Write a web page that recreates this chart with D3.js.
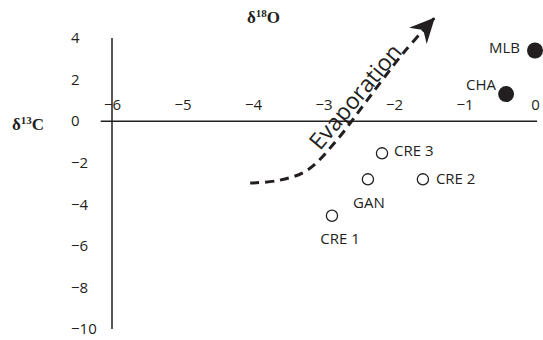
<!DOCTYPE html>
<html>
<head>
<meta charset="utf-8">
<script src="https://cdn.jsdelivr.net/npm/d3@7"></script>
<style>
  body { margin: 0; background: #fff; }
  text { font-family: "Open Sans", sans-serif; fill: #231f20; }
  .title { font-family: "Liberation Serif", "Times New Roman", serif; font-weight: bold; }
</style>
</head>
<body>
<svg id="chart" width="543" height="340"></svg>
<script>
// data
const xTicks = [-6, -5, -4, -3, -2, -1, 0];
const yTicks = [4, 2, 0, -2, -4, -6, -8, -10];
const sites = ['MLB', 'CHA', 'CRE 3', 'GAN', 'CRE 2', 'CRE 1'];
const d18O = [0, -0.41, -2.17, -2.37, -1.59, -2.88];
const d13C = [3.4, 1.3, -1.55, -2.8, -2.8, -4.55];
const filled = [true, true, false, false, false, false];
// evaporation trend (drawn in data units)
const evapX = [-4.04, -3.62, -3.23, -2.81, -2.38, -1.87, -1.43];
const evapY = [-2.98, -2.84, -2.36, -0.91, 1.01, 3.27, 4.95];

const svg = d3.select('#chart');
const x = d3.scaleLinear().domain([-6, 0]).range([112, 535]);
const y = d3.scaleLinear().domain([-10, 4]).range([329, 38]);

// label placement per site
const place = {
  'MLB': { dx: -15, dy: 3, anchor: 'end' },
  'CHA': { dx: -10, dy: -4, anchor: 'end' },
  'CRE 3': { dx: 12, dy: 3, anchor: 'start' },
  'GAN': { dx: 1, dy: 29, anchor: 'middle' },
  'CRE 2': { dx: 13, dy: 5, anchor: 'start' },
  'CRE 1': { dx: 8, dy: 28, anchor: 'middle' },
};

// axis lines
svg.append('line')
  .attr('x1', x(-6.16)).attr('x2', x(0.03))
  .attr('y1', y(0)).attr('y2', y(0))
  .attr('stroke', '#231f20').attr('stroke-width', 1.5);
svg.append('line')
  .attr('x1', x(-6)).attr('x2', x(-6))
  .attr('y1', y(4)).attr('y2', y(-10))
  .attr('stroke', '#231f20').attr('stroke-width', 1.5);

const xAxis = svg.append('g')
  .attr('transform', `translate(0, ${y(0)})`)
  .call(d3.axisTop(x).tickValues(xTicks).tickSize(0).tickPadding(11).tickFormat(d3.format('d')));
xAxis.select('.domain').remove();
xAxis.selectAll('text').style('font-size', '15px').attr('fill', '#231f20');

const yAxis = svg.append('g')
  .attr('transform', `translate(${x(-6)}, 0)`)
  .call(d3.axisLeft(y).tickValues(yTicks).tickSize(0).tickFormat(d3.format('d')));
yAxis.select('.domain').remove();
yAxis.selectAll('text')
  .attr('x', -41)
  .attr('text-anchor', 'start')
  .style('font-size', '15px')
  .attr('fill', '#231f20');

// titles
const tx = svg.append('text').attr('class', 'title').attr('x', 247).attr('y', 23).style('font-size', '17px');
tx.append('tspan').text('δ');
tx.append('tspan').attr('dy', -6).style('font-size', '11px').text('18');
tx.append('tspan').attr('dy', 6).text('O');

const ty = svg.append('text').attr('class', 'title').attr('x', 12).attr('y', 130).style('font-size', '17px');
ty.append('tspan').text('δ');
ty.append('tspan').attr('dy', -6).style('font-size', '11px').text('13');
ty.append('tspan').attr('dy', 6).text('C');

// evaporation arrow
svg.append('defs').append('marker')
  .attr('id', 'head')
  .attr('markerUnits', 'userSpaceOnUse')
  .attr('viewBox', '-26 -13 28 26')
  .attr('markerWidth', 28).attr('markerHeight', 26)
  .attr('refX', 0).attr('refY', 0)
  .attr('orient', 'auto')
  .append('path')
  .attr('d', 'M1,0 L-24,-12 L-16,0 L-24,12 Z')
  .attr('fill', '#231f20');

const evap = evapX.map((v, i) => [x(v), y(evapY[i])]);
svg.append('path')
  .attr('d', d3.line().curve(d3.curveCatmullRom)(evap))
  .attr('fill', 'none')
  .attr('stroke', '#231f20')
  .attr('stroke-width', 3)
  .attr('stroke-dasharray', '9,6')
  .attr('marker-end', 'url(#head)');

svg.append('text')
  .attr('transform', `translate(${x(-2.46)}, ${y(0.93)}) rotate(-50)`)
  .attr('text-anchor', 'middle')
  .style('font-size', '23px')
  .text('Evaporation');

// points
const pts = sites.map((s, i) => ({ name: s, ox: d18O[i], cx: d13C[i], solid: filled[i] }));
svg.append('g').selectAll('circle')
  .data(pts)
  .enter()
  .append('circle')
  .attr('cx', d => x(d.ox))
  .attr('cy', d => y(d.cx))
  .attr('r', d => (d.solid ? 8 : 5.6))
  .attr('fill', d => (d.solid ? '#231f20' : '#fff'))
  .attr('stroke', '#231f20')
  .attr('stroke-width', d => (d.solid ? 0 : 1.3));

svg.append('g').selectAll('text')
  .data(pts)
  .enter()
  .append('text')
  .attr('x', d => x(d.ox) + place[d.name].dx)
  .attr('y', d => y(d.cx) + place[d.name].dy)
  .attr('text-anchor', d => place[d.name].anchor)
  .style('font-size', '15px')
  .text(d => d.name);
</script>
</body>
</html>
